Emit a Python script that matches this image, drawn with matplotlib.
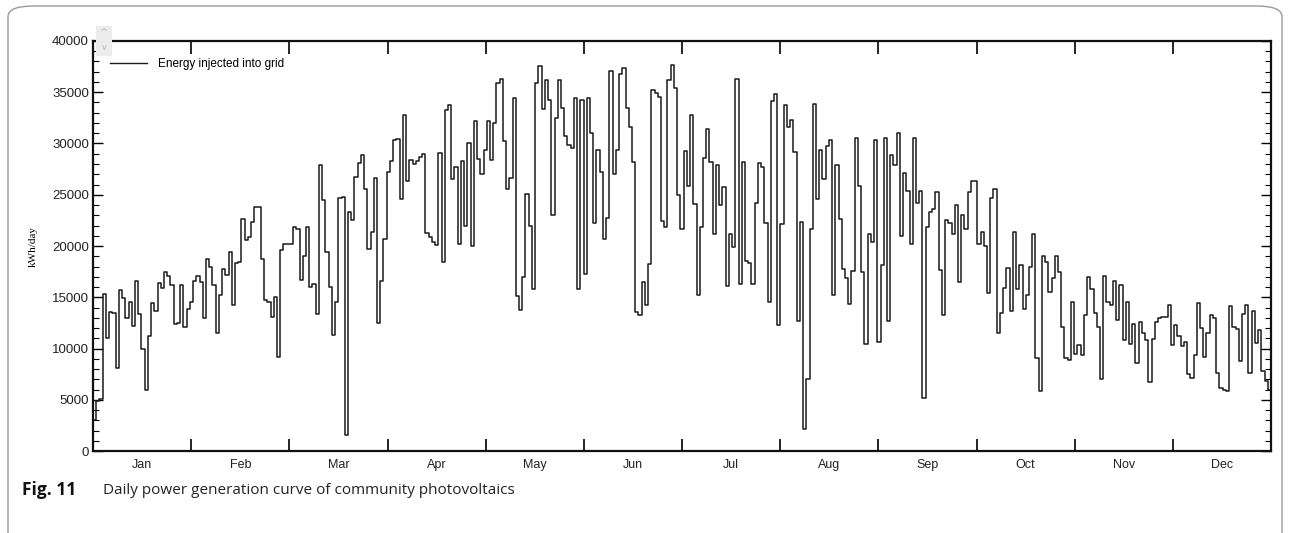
import numpy as np
import matplotlib
matplotlib.use("Agg")
import matplotlib.pyplot as plt
from matplotlib.patches import FancyBboxPatch
from matplotlib.ticker import MultipleLocator, FixedLocator, NullFormatter

# daily energy injected into grid (kWh/day), Jan 1 -> Dec 31
jan_mar = [3000, 4900, 5100, 15300, 11000, 13600, 13500, 8100, 15700, 14900,
           13000, 14500, 12200, 16600, 13400, 10000, 6000, 11200, 14400, 13700,
           16400, 15900, 17500, 17100, 16200, 12400, 12500, 16200, 12100, 13900,
           14500, 16600, 17100, 16500, 13000, 18700, 18000, 16200, 11500, 15200,
           17800, 17200, 19400, 14200, 18300, 18400, 22600, 20600, 20900, 22300,
           23800, 23800, 18700, 14700, 14500, 13100, 15000, 9200, 19600, 20200,
           20200, 20200, 21900, 21700, 16700, 19000, 21900, 16000, 16300, 13400,
           27900, 24500, 19400, 16000, 11300, 14500, 24700, 24800, 1600, 23300,
           22500, 26700, 28100, 28900, 25600, 19700, 21400, 26600, 12500, 16600,
           20700, 27200, 28300, 30300, 30400, 24600]
apr = [32800, 26300, 28400, 28000, 28300, 28700, 29000,
       21250, 20900, 20400, 20100, 29100, 18400, 33300, 33800, 26500, 27700,
       20200, 28300, 22000, 30000, 20000, 32200, 28500, 27000, 29400, 32200,
       28400, 32000, 35900, 36300, 30200, 25600, 26600, 34400, 15100]
may = [13800, 17000, 25100, 22000, 15800, 35900, 37600, 33400, 36200, 34200,
       23000, 32500, 36200, 33500, 30700, 29900, 29600, 34400, 15800, 34200,
       17300, 34400, 31000, 22200, 29400, 27200, 20700, 22700, 37100, 27000,
       29400, 36800, 37400, 33500]
jun = [31600, 28200, 13600, 13300, 16500, 14200, 18200, 35200, 34900, 34500,
       22400, 21900, 36200, 37700, 35400, 25000, 21700, 29300, 25900, 32800,
       24100, 15200, 21900, 28600, 31400, 28200, 21200, 27900, 24000, 25800,
       16100, 21200, 19900]
jul = [36300, 16300, 28200, 18500, 18300, 16300, 24200, 28100, 27700, 22200,
       14500, 34100, 34800, 12300, 22100, 33800, 31600, 32300, 29200, 12700,
       22300, 2100, 7000, 21700, 33900, 24600, 29400, 26500, 29800, 30300,
       15200, 27900, 22600, 17800, 16900]
aug = [14300, 17600, 30500, 25900, 17500, 10400, 21200, 20400, 30300, 10600,
       18100, 30500, 12700, 28900, 27900, 31000, 21000, 27100, 25400, 20200,
       30500, 24200, 25400, 5200, 21900, 23300, 23600, 25300, 17700, 13300,
       22500, 22200, 21200]
sep_oct = [24000, 16500, 23000, 21700, 25300, 26300, 26300, 20200, 21400, 20000,
           15400, 24700, 25600, 11500, 13500, 15900, 17900, 13700, 21400, 15800,
           18100, 13900, 15200, 18000, 21200, 9100, 5900, 19000, 18400, 15500,
           16900, 19000, 17500]
oct_nov = [12100, 9100, 8900, 14500, 9500, 10300, 9400, 13300, 17000, 15800,
           13500, 12100, 7000, 17100, 14500, 14200, 16600, 12800, 16200, 10800,
           14500, 10400, 12400, 8600, 12600, 11500, 10800, 6700, 10900, 12600,
           13000, 13100, 13100, 14200]
dec = [10300, 12300, 11200, 10200, 10600, 7500, 7100, 9400, 14400, 12000,
       9200, 11500, 13300, 13000, 7600, 6100, 6000, 5900, 14100, 12100,
       11900, 8800, 13400, 14200, 7600, 13700, 10500, 11800, 7800, 6800, 6000]

energy = np.array(jan_mar + apr + may + jun + jul + aug + sep_oct + oct_nov + dec)
months = ['Jan', 'Feb', 'Mar', 'Apr', 'May', 'Jun',
          'Jul', 'Aug', 'Sep', 'Oct', 'Nov', 'Dec']

fig = plt.figure(figsize=(12.9, 5.33), dpi=100)
ax = fig.add_axes([0.0721, 0.1538, 0.9132, 0.7693])

n = len(energy)
days = np.arange(n + 1)
ax.step(days, np.append(energy, energy[-1]), where='post', color='#1a1a1a',
        lw=1.1, label='Energy injected into grid')

ax.set_xlim(0, n)
ax.set_ylim(0, 40000)

# month boundaries as ticks, labels centred in each month
bounds = [n * i / 12 for i in range(13)]
mids = [n * (i + 0.5) / 12 for i in range(12)]
ax.xaxis.set_major_locator(FixedLocator(bounds[1:-1]))
ax.xaxis.set_major_formatter(NullFormatter())
ax.xaxis.set_minor_locator(FixedLocator(mids))
ax.set_xticklabels(months, minor=True)
ax.tick_params(axis='x', which='major', direction='in', length=9, width=1.2,
               top=True, bottom=True)
ax.tick_params(axis='x', which='minor', length=0, pad=6, labelsize=9,
               labelcolor='#222222')

ax.yaxis.set_major_locator(MultipleLocator(5000))
ax.yaxis.set_minor_locator(MultipleLocator(1000))
ax.tick_params(axis='y', which='major', direction='in', length=7, width=1.0,
               left=True, right=True, labelsize=9.5, labelcolor='#222222', pad=3)
ax.tick_params(axis='y', which='minor', direction='in', length=4, width=0.8,
               left=True, right=True)
for lab in ax.get_yticklabels() + ax.get_xticklabels(minor=True):
    lab.set_family('Liberation Sans')

for sp in ax.spines.values():
    sp.set_linewidth(1.6)
    sp.set_color('#111111')

ax.set_ylabel('kWh/day', family='Liberation Serif', fontsize=8, labelpad=10)

leg = ax.legend(loc='upper left', bbox_to_anchor=(0.005, 0.985), frameon=False,
                handlelength=3.2, handletextpad=0.9,
                prop={'family': 'Liberation Sans', 'size': 8.5})
for line in leg.get_lines():
    line.set_linewidth(1.0)

# little scroll widget in the top-left corner of the original screenshot
fig.patches.append(FancyBboxPatch((96 / 1290, 1 - 56 / 533), 16 / 1290, 30 / 533,
                                  boxstyle='square,pad=0', transform=fig.transFigure,
                                  facecolor='#ececec', edgecolor='none', zorder=0))
fig.text(104 / 1290, 1 - 33 / 533, '^', ha='center', va='center', fontsize=7,
         color='#bbbbbb')
fig.text(104 / 1290, 1 - 48 / 533, 'v', ha='center', va='center', fontsize=6,
         color='#bbbbbb')

# rounded frame around the panel
fig.patches.append(FancyBboxPatch((8 / 1290, -0.05), 1274 / 1290, 1 - 6 / 533 + 0.05,
                                  boxstyle='round,pad=0,rounding_size=0.02',
                                  transform=fig.transFigure, facecolor='none',
                                  edgecolor='#9a9a9a', lw=1.0))

fig.text(22 / 1290, 1 - 490 / 533, 'Fig. 11', family='Open Sans', weight='bold',
         fontsize=12.5, va='center', ha='left', color='#111111')
fig.text(103 / 1290, 1 - 490 / 533, 'Daily power generation curve of community photovoltaics',
         family='Open Sans', fontsize=11, va='center', ha='left', color='#222222')

fig.savefig('out.png', dpi=100)
